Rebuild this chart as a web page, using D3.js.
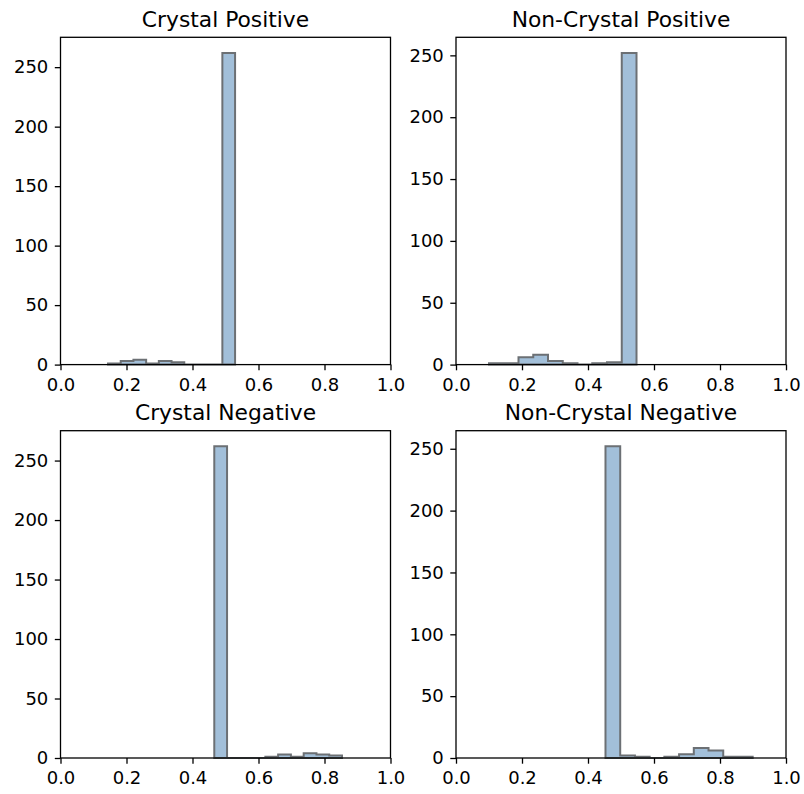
<!DOCTYPE html>
<html>
<head>
<meta charset="utf-8">
<script src="https://cdn.jsdelivr.net/npm/d3@7"></script>
<style>
  html, body { margin: 0; padding: 0; background: #ffffff; }
  svg { display: block; font-family: "DejaVu Sans", sans-serif; }
</style>
</head>
<body>
<svg id="chart" width="804" height="794"></svg>
<script>
// Panel titles, in reading order (left-to-right, top-to-bottom)
const titles = ["Crystal Positive", "Non-Crystal Positive", "Crystal Negative", "Non-Crystal Negative"];

// Histogram bin edges (10 bins each) on the score axis
const edgesCrystalPos = [0.144, 0.1825, 0.221, 0.2595, 0.298, 0.3365, 0.375, 0.4135, 0.452, 0.4905, 0.529];
const edgesNonCrystalPos = [0.100, 0.1447, 0.1894, 0.2341, 0.2788, 0.3235, 0.3682, 0.4129, 0.4576, 0.5023, 0.547];
const edgesCrystalNeg = [0.466, 0.5047, 0.5434, 0.5821, 0.6208, 0.6595, 0.6982, 0.7369, 0.7756, 0.8143, 0.853];
const edgesNonCrystalNeg = [0.453, 0.4976, 0.5422, 0.5868, 0.6314, 0.676, 0.7206, 0.7652, 0.8098, 0.8544, 0.899];

// Counts per bin
const countsCrystalPos = [1, 3, 4, 1, 3, 2, 0, 0, 0, 262];
const countsNonCrystalPos = [1, 1, 6, 8, 3, 1, 0, 1, 2, 252];
const countsCrystalNeg = [262, 0, 0, 0, 1, 3, 1, 4, 3, 2];
const countsNonCrystalNeg = [252, 2, 1, 0, 1, 3, 8, 6, 1, 1];

// Axis tick values
const xTicks = [0, 0.2, 0.4, 0.6, 0.8, 1.0];
const yTicks = [0, 50, 100, 150, 200, 250];

const panels = [
  { title: titles[0], edges: edgesCrystalPos, counts: countsCrystalPos, left: 60.5, top: 37.3 },
  { title: titles[1], edges: edgesNonCrystalPos, counts: countsNonCrystalPos, left: 456, top: 37.3 },
  { title: titles[2], edges: edgesCrystalNeg, counts: countsCrystalNeg, left: 60.5, top: 430.7 },
  { title: titles[3], edges: edgesNonCrystalNeg, counts: countsNonCrystalNeg, left: 456, top: 430.7 }
];

const W = 330, H = 327.3;
const svg = d3.select("#chart");

panels.forEach(p => {
  const g = svg.append("g").attr("transform", `translate(${p.left},${p.top})`);
  const x = d3.scaleLinear().domain([0, 1]).range([0, W]);
  const y = d3.scaleLinear().domain([0, d3.max(p.counts) * 1.05]).range([H, 0]);

  // step-filled outline of the histogram
  const pts = [[p.edges[0], 0]];
  p.counts.forEach((c, i) => {
    pts.push([p.edges[i], c]);
    pts.push([p.edges[i + 1], c]);
  });
  pts.push([p.edges[p.edges.length - 1], 0]);
  const line = d3.line().x(d => x(d[0])).y(d => y(d[1]));
  g.append("path")
    .attr("d", line(pts) + "Z")
    .attr("fill", "#a2bfd9")
    .attr("stroke", "#6c7074")
    .attr("stroke-width", 2)
    .attr("stroke-linejoin", "miter");

  // axes
  const xAxis = d3.axisBottom(x).tickValues(xTicks).tickFormat(d3.format(".1f")).tickSize(5.7).tickPadding(8);
  const yAxis = d3.axisLeft(y).tickValues(yTicks).tickFormat(d3.format("d")).tickSize(5.7).tickPadding(6.5);
  const gx = g.append("g").attr("transform", `translate(0,${H})`).call(xAxis);
  const gy = g.append("g").call(yAxis);
  [gx, gy].forEach(a => {
    a.select(".domain").remove();
    a.selectAll(".tick line").attr("stroke", "#000").attr("stroke-width", 1.3);
    a.selectAll(".tick text").attr("fill", "#000").style("font-size", "18px")
      .style("font-family", "'DejaVu Sans', sans-serif");
  });

  // frame
  g.append("rect").attr("x", 0).attr("y", 0).attr("width", W).attr("height", H)
    .attr("fill", "none").attr("stroke", "#000").attr("stroke-width", 1.3);

  // title
  g.append("text")
    .attr("x", W / 2).attr("y", -10.8)
    .attr("text-anchor", "middle")
    .style("font-size", "21.8px")
    .attr("fill", "#000")
    .text(p.title);
});
</script>
</body>
</html>
